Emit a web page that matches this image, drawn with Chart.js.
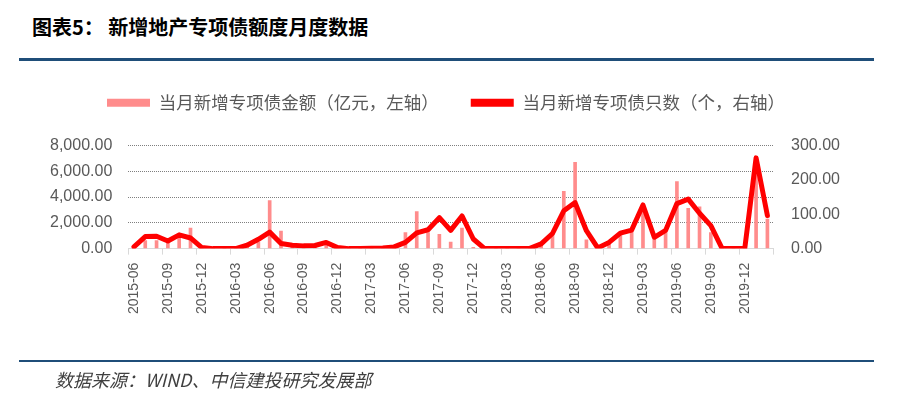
<!DOCTYPE html>
<html>
<head>
<meta charset="utf-8">
<script src="https://cdn.jsdelivr.net/npm/chart.js@4"></script>
<style>
  body { margin: 0; background: #fff; }
  #wrap { position: relative; width: 900px; height: 394px; }
  #title { position: absolute; left: 32px; top: 12px; font: bold 20px "Noto Sans CJK SC"; color: #000; white-space: nowrap; }
  .rule { position: absolute; left: 19px; width: 855px; background: #1F4E79; }
  #foot { position: absolute; left: 55px; top: 366px; font: italic 18px "Noto Sans CJK SC"; color: #404040; white-space: nowrap; }
  #box { position: absolute; left: 0; top: 0; width: 900px; height: 394px; }
</style>
</head>
<body>
<div id="wrap">
  <div id="title">图表5：&nbsp;新增地产专项债额度月度数据</div>
  <div class="rule" style="top:58px;height:3px;"></div>
  <div id="box"><canvas id="myChart"></canvas></div>
  <div class="rule" style="top:360px;height:2px;"></div>
  <div id="foot">数据来源：WIND、中信建投研究发展部</div>
</div>
<script>
// months 2015-06 .. 2020-02
const months = [
  "2015-06","2015-07","2015-08","2015-09","2015-10","2015-11","2015-12",
  "2016-01","2016-02","2016-03","2016-04","2016-05","2016-06","2016-07","2016-08","2016-09","2016-10","2016-11","2016-12",
  "2017-01","2017-02","2017-03","2017-04","2017-05","2017-06","2017-07","2017-08","2017-09","2017-10","2017-11","2017-12",
  "2018-01","2018-02","2018-03","2018-04","2018-05","2018-06","2018-07","2018-08","2018-09","2018-10","2018-11","2018-12",
  "2019-01","2019-02","2019-03","2019-04","2019-05","2019-06","2019-07","2019-08","2019-09","2019-10","2019-11","2019-12",
  "2020-01","2020-02"
];
// 当月新增专项债金额（亿元）
const amount = [
  100, 620, 620, 500, 1100, 1600, 50,
  0, 0, 0, 150, 500, 3720, 1370, 150, 250, 150, 300, 50,
  0, 0, 0, 30, 80, 1250, 2870, 1250, 1100, 500, 1600, 100,
  0, 0, 0, 0, 30, 300, 1250, 4450, 6700, 675, 50, 400,
  1050, 1300, 3250, 750, 1250, 5200, 3120, 3250, 1250, 0, 0, 0,
  7100, 2300
];
// 当月新增专项债只数（个）
const count = [
  5, 35, 36, 22, 40, 31, 3,
  0, 0, 0, 10, 27, 48, 15, 10, 8, 9, 18, 3,
  0, 0, 1, 2, 5, 18, 46, 55, 90, 53, 95, 28,
  0, 0, 0, 0, 1, 14, 44, 110, 134, 52, 2, 18,
  45, 54, 127, 33, 53, 131, 144, 103, 67, 0, 0, 1,
  264, 96
];
const leftTicks = [0, 2000, 4000, 6000, 8000];
const rightTicks = [0, 100, 200, 300];

const fmt = v => v.toLocaleString('en-US', { minimumFractionDigits: 2, maximumFractionDigits: 2 });
const grey = '#595959';

const legendMargin = {
  id: 'legendMargin',
  beforeInit(chart) {
    const fit = chart.legend.fit;
    chart.legend.fit = function () {
      fit.bind(chart.legend)();
      this.height += 24;
    };
  }
};

let myChart = new Chart(document.getElementById('myChart'), {
  type: 'bar',
  data: {
    labels: months,
    datasets: [
      {
        type: 'bar',
        label: '当月新增专项债金额（亿元，左轴）',
        data: amount,
        backgroundColor: '#FF8C8C',
        barThickness: 3,
        yAxisID: 'y',
        order: 1
      },
      {
        type: 'line',
        label: '当月新增专项债只数（个，右轴）',
        data: count,
        borderColor: '#FF0000',
        backgroundColor: '#FF0000',
        borderWidth: 5,
        borderJoinStyle: 'round',
        borderCapStyle: 'round',
        pointRadius: 0,
        tension: 0,
        yAxisID: 'y1',
        order: 0
      }
    ]
  },
  options: {
    responsive: true,
    maintainAspectRatio: false,
    animation: false,
    layout: { padding: { top: 62, left: 34, right: 42, bottom: 72 } },
    plugins: {
      tooltip: { enabled: false },
      legend: {
        display: true,
        position: 'top',
        labels: {
          color: grey,
          font: { family: '"Noto Sans CJK SC"', size: 17.5 },
          boxWidth: 43,
          boxHeight: 8,
          padding: 32,
          sort: (a, b) => a.datasetIndex - b.datasetIndex,
          generateLabels(chart) {
            const items = Chart.defaults.plugins.legend.labels.generateLabels(chart);
            items.forEach(it => { it.lineWidth = 0; });
            return items;
          }
        }
      }
    },
    scales: {
      x: {
        offset: true,
        grid: {
          offset: true,
          drawOnChartArea: false,
          drawTicks: true,
          tickLength: 6,
          color: ctx => (ctx.index === undefined || ctx.index % 3 === 0) ? '#D9D9D9' : 'rgba(0,0,0,0)'
        },
        border: { display: true, color: '#D9D9D9', width: 1 },
        ticks: {
          autoSkip: false,
          minRotation: 90,
          maxRotation: 90,
          padding: 8,
          color: grey,
          font: { family: '"Liberation Sans"', size: 14 },
          callback: function (v, i) { return i % 3 === 0 ? months[i] : ''; }
        }
      },
      y: {
        position: 'left',
        min: 0,
        max: 8000,
        afterBuildTicks: s => { s.ticks = leftTicks.map(v => ({ value: v })); },
        grid: { color: '#7F7F7F', drawTicks: false, lineWidth: 1 },
        border: { display: false, dash: [1, 1] },
        ticks: {
          padding: 16,
          color: grey,
          font: { family: '"Liberation Sans"', size: 16 },
          callback: v => fmt(v)
        }
      },
      y1: {
        position: 'right',
        min: 0,
        max: 300,
        afterBuildTicks: s => { s.ticks = rightTicks.map(v => ({ value: v })); },
        grid: { drawOnChartArea: false, drawTicks: false },
        border: { display: false },
        ticks: {
          padding: 18,
          color: grey,
          font: { family: '"Liberation Sans"', size: 16 },
          callback: v => fmt(v)
        }
      }
    }
  },
  plugins: [legendMargin]
});
</script>
</body>
</html>
